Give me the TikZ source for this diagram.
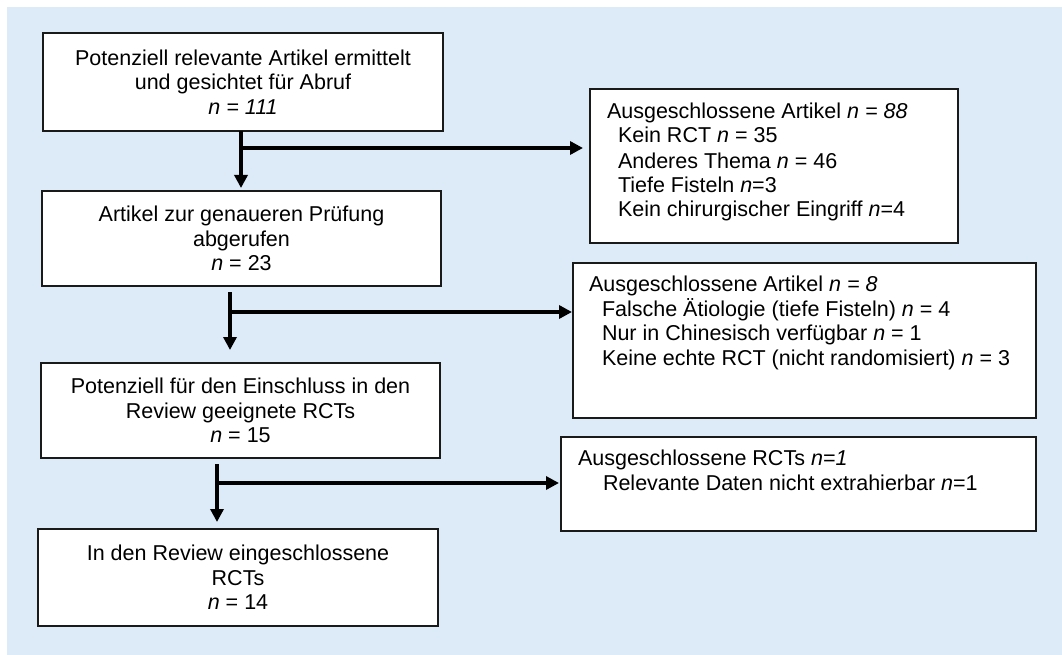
\documentclass[tikz,border=0pt]{standalone}
\usepackage{fontspec}
\setmainfont{Liberation Sans}
\usetikzlibrary{arrows.meta}
\definecolor{bgblue}{RGB}{221,234,247}
\definecolor{boxline}{RGB}{26,26,26}
\begin{document}
\begin{tikzpicture}[x=1pt,y=-1pt,
  font=\fontsize{21.5}{24.7}\selectfont,
  box/.style={draw=boxline, line width=1.5pt, fill=white, rectangle, inner sep=0pt, outer sep=0pt},
  mainbox/.style={box, align=center},
  txt/.style={anchor=base west, inner sep=0pt, outer sep=0pt},
  arr/.style={line width=4pt, draw=black, -{Triangle[length=13pt,width=13pt]}}
]
\useasboundingbox (0,0) rectangle (1062,655);
\fill[bgblue] (7,7) rectangle (1062,655);

% main column
\node[mainbox, minimum width=400pt, minimum height=98pt] (b1) at (243,82)
  {Potenziell relevante Artikel ermittelt\\und gesichtet für Abruf\\\textit{n = 111}};
\node[mainbox, minimum width=399pt, minimum height=95pt] (b2) at (241.5,238.5)
  {Artikel zur genaueren Prüfung\\abgerufen\\\textit{n} = 23};
\node[mainbox, minimum width=399pt, minimum height=95pt] (b3) at (240.5,410.5)
  {Potenziell für den Einschluss in den\\Review geeignete RCTs\\\textit{n} = 15};
\node[mainbox, minimum width=400pt, minimum height=97pt] (b4) at (238,577.5)
  {In den Review eingeschlossene\\RCTs\\\textit{n} = 14};

% exclusion boxes
\node[box, minimum width=368pt, minimum height=154pt] (r1) at (774,166) {};
\node[box, minimum width=463pt, minimum height=155pt] (r2) at (804.5,340.5) {};
\node[box, minimum width=475pt, minimum height=94pt] (r3) at (798.5,484) {};

\node[txt] (r1a) at (607,118.3) {Ausgeschlossene Artikel \textit{n = 88}};
\node[txt] (r1b) at (618,142.7) {Kein RCT \textit{n} = 35};
\node[txt] (r1c) at (618,168.3) {Anderes Thema \textit{n} = 46};
\node[txt] (r1d) at (618,192.7) {Tiefe Fisteln \textit{n}=3};
\node[txt] (r1e) at (618,216.7) {Kein chirurgischer Eingriff \textit{n}=4};

\node[txt] (r2a) at (589,291.7) {Ausgeschlossene Artikel \textit{n = 8}};
\node[txt] (r2b) at (602,316.7) {Falsche Ätiologie (tiefe Fisteln) \textit{n} = 4};
\node[txt] (r2c) at (602,340.7) {Nur in Chinesisch verfügbar \textit{n} = 1};
\node[txt] (r2d) at (602,365) {Keine echte RCT (nicht randomisiert) \textit{n} = 3};

\node[txt] (r3a) at (578,465) {Ausgeschlossene RCTs \textit{n=1}};
\node[txt] (r3b) at (603,490.7) {Relevante Daten nicht extrahierbar \textit{n}=1};

% connectors
\coordinate (j1) at (241,148);
\coordinate (j2) at (230,312);
\coordinate (j3) at (217,483);

\draw[arr, shorten >=3pt] (b1.south -| j1) -- (b2.north -| j1);
\draw[arr, shorten >=7pt] (j1) -- (r1.west |- j1);

\draw[arr, shorten <=6pt, shorten >=13pt] (b2.south -| j2) -- (b3.north -| j2);
\draw[arr, shorten >=1pt] (j2) -- (r2.west |- j2);

\draw[arr, shorten <=6pt, shorten >=7pt] (b3.south -| j3) -- (b4.north -| j3);
\draw[arr, shorten >=2pt] (j3) -- (r3.west |- j3);
\end{tikzpicture}
\end{document}
